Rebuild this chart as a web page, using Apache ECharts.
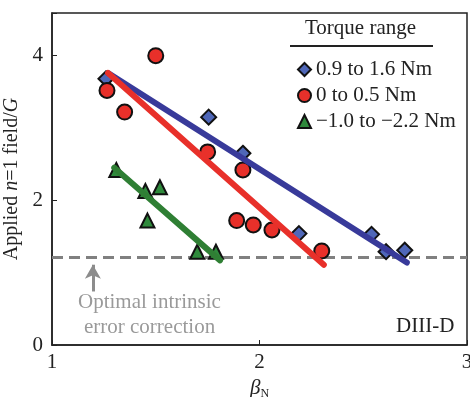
<!DOCTYPE html>
<html>
<head>
<meta charset="utf-8">
<script src="https://cdn.jsdelivr.net/npm/echarts@6/dist/echarts.min.js"></script>
<style>
  html, body { margin: 0; padding: 0; background: #fff; }
  #chart { width: 470px; height: 397px; }
</style>
</head>
<body>
<div id="chart"></div>
<script>
// measured points, beta_N vs applied n=1 field (G)
const blueData = [[1.26, 3.68], [1.755, 3.15], [1.92, 2.65], [2.19, 1.54], [2.54, 1.53], [2.61, 1.29], [2.70, 1.31]]
const redData = [[1.265, 3.52], [1.35, 3.22], [1.50, 4.0], [1.75, 2.67], [1.92, 2.42], [1.89, 1.72], [1.97, 1.66], [2.06, 1.59], [2.30, 1.30]]
const greenData = [[1.31, 2.42], [1.45, 2.13], [1.52, 2.18], [1.46, 1.72], [1.70, 1.29], [1.79, 1.29]]

// linear fits
const blueFit = [[1.27, 3.76], [2.71, 1.14]]
const redFit = [[1.27, 3.76], [2.31, 1.11]]
const greenFit = [[1.30, 2.45], [1.81, 1.17]]

const optimalLevel = [[1, 1.21], [3, 1.21]]
const arrowPts = [[1.197, 0.74], [1.197, 1.11]]

const names = ['0.9 to 1.6 Nm', '0 to 0.5 Nm', '\u22121.0 to \u22122.2 Nm']
const serif = '"Liberation Serif", "Times New Roman", serif'

const fitLine = (name, data, color) => ({
  name: name,
  type: 'line',
  data: data,
  symbol: 'none',
  lineStyle: { color: color, width: 6, cap: 'round' },
  z: 4,
  silent: true
})

const dots = (name, data, symbol, size, color) => ({
  name: name,
  type: 'scatter',
  data: data,
  symbol: symbol,
  symbolSize: size,
  itemStyle: { color: color, borderColor: '#111', borderWidth: 2, opacity: 1 },
  z: 3
})

const option = {
  animation: false,
  backgroundColor: '#fff',
  textStyle: { fontFamily: serif },
  grid: {
    left: 52, right: 3, top: 13, bottom: 52,
    containLabel: false, outerBoundsMode: 'none',
    show: true, borderColor: '#222', borderWidth: 1.5
  },
  legend: {
    data: names,
    orient: 'vertical',
    left: 292,
    top: 54,
    itemGap: 5,
    itemWidth: 13,
    itemHeight: 13,
    textStyle: { fontFamily: serif, fontSize: 21, color: '#222' }
  },
  xAxis: {
    type: 'value',
    min: 1,
    max: 3,
    interval: 1,
    name: '{b|\u03b2}{s|N}',
    nameLocation: 'middle',
    nameGap: 27,
    nameTextStyle: {
      rich: {
        b: { fontFamily: serif, fontSize: 21, fontStyle: 'italic', color: '#222' },
        s: { fontFamily: serif, fontSize: 12, color: '#222', verticalAlign: 'bottom', padding: [10, 0, 0, 0] }
      }
    },
    axisLine: { lineStyle: { color: '#222', width: 1.5 } },
    axisTick: { inside: true, length: 5, lineStyle: { color: '#222' } },
    axisLabel: { fontFamily: serif, fontSize: 21, color: '#222', margin: 7 },
    splitLine: { show: false }
  },
  yAxis: {
    type: 'value',
    min: 0,
    max: 4.59,
    interval: 2,
    name: '{a|Applied }{i|n}{a|=1 field/}{i|G}',
    nameLocation: 'middle',
    nameRotate: 90,
    nameGap: 23,
    nameTextStyle: {
      rich: {
        a: { fontFamily: serif, fontSize: 20, color: '#222' },
        i: { fontFamily: serif, fontSize: 20, fontStyle: 'italic', color: '#222' }
      }
    },
    axisLine: { lineStyle: { color: '#222', width: 1.5 } },
    axisTick: { inside: true, length: 5, lineStyle: { color: '#222' } },
    axisLabel: {
      fontFamily: serif, fontSize: 21, color: '#222', margin: 9,
      formatter: v => (v % 2 === 0 ? String(v) : '')
    },
    splitLine: { show: false }
  },
  graphic: [
    { type: 'text', left: 305, top: 18, style: { text: 'Torque range', font: '21px ' + serif, fill: '#222' } },
    { type: 'line', shape: { x1: 290, y1: 46, x2: 433, y2: 46 }, style: { stroke: '#222', lineWidth: 2 } },
    {
      type: 'text', left: 78, top: 292,
      style: { text: 'Optimal intrinsic', font: '21px ' + serif, fill: '#9a9a9a' }
    },
    {
      type: 'text', left: 84, top: 317,
      style: { text: 'error correction', font: '21px ' + serif, fill: '#9a9a9a' }
    },
    { type: 'text', left: 396, top: 316, style: { text: 'DIII-D', font: '21px ' + serif, fill: '#222' } }
  ],
  series: [
    {
      name: 'optimal',
      type: 'line',
      data: optimalLevel,
      symbol: 'none',
      lineStyle: { color: '#808080', width: 3, type: [11, 6] },
      z: 1,
      silent: true,
      markLine: {
        silent: true,
        symbol: ['none', 'arrow'],
        symbolSize: [12, 14],
        label: { show: false },
        lineStyle: { color: '#8c8c8c', width: 3, type: 'solid' },
        data: [[{ coord: arrowPts[0] }, { coord: arrowPts[1] }]]
      }
    },
    dots(names[0], blueData, 'diamond', 15, '#4f67b8'),
    dots(names[1], redData, 'circle', 15, '#e8302a'),
    dots(names[2], greenData, 'triangle', 14, '#2f8a3c'),
    fitLine('fit blue', blueFit, '#383a9a'),
    fitLine('fit red', redFit, '#e8302a'),
    fitLine('fit green', greenFit, '#2f7f34')
  ]
}

const myChart = echarts.init(document.getElementById('chart'))
myChart.setOption(option)
</script>
</body>
</html>
